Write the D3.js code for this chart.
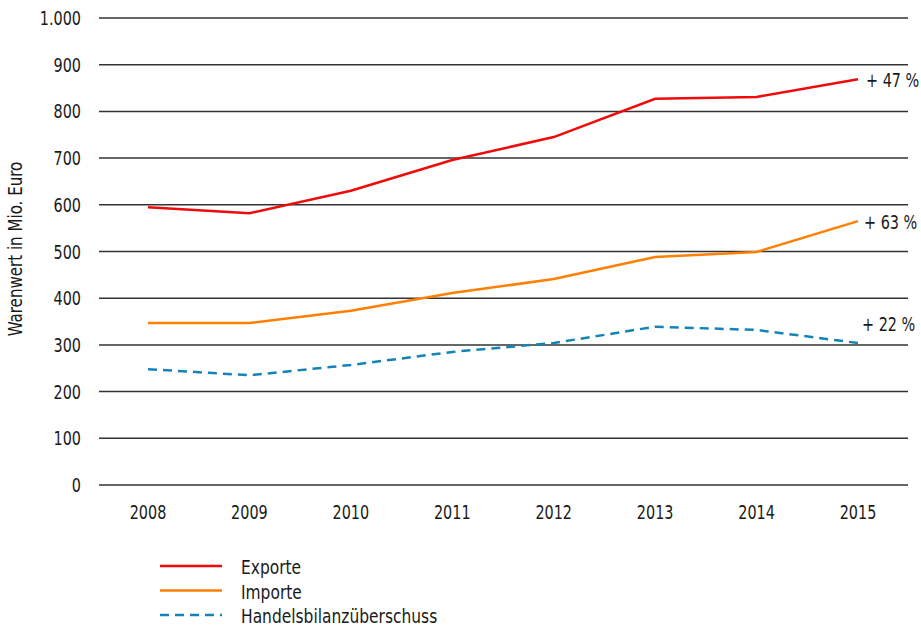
<!DOCTYPE html>
<html><head><meta charset="utf-8">
<script src="https://cdn.jsdelivr.net/npm/d3@7"></script>
<style>
body{margin:0;background:#fff;}
text{font-family:"DejaVu Sans Condensed","DejaVu Sans",sans-serif;font-stretch:condensed;fill:#1a1a1a;}
</style></head><body>
<svg id="c" width="921" height="627"></svg>
<script>
const years = ["2008","2009","2010","2011","2012","2013","2014","2015"];
const exporte = [595, 582, 630, 696, 745, 827, 831, 869];
const importe = [347, 347, 373, 411, 441, 488, 499, 565];
const ueberschuss = [248, 235, 257, 285, 304, 339, 332, 304];
const yTicks = [0,100,200,300,400,500,600,700,800,900,1000];
const changeLabels = ["+ 47 %", "+ 63 %", "+ 22 %"];
const seriesNames = ["Exporte", "Importe", "Handelsbilanzüberschuss"];

const svg = d3.select("#c");
const x = d3.scalePoint().domain(years).range([148, 858]);
const y = d3.scaleLinear().domain([0, 1000]).range([485, 18]);
const fmt = v => v === 1000 ? "1.000" : String(v);
const SX = 0.8;
const FS = 20;
const tr = (px, py, s) => `translate(${px},${py}) scale(${s || SX},1)`;

// grid
svg.append("g").selectAll("line").data(yTicks).join("line")
  .attr("x1", 99).attr("x2", 908)
  .attr("y1", d => y(d)).attr("y2", d => y(d))
  .attr("stroke", "#333").attr("stroke-width", 1.5);

// y labels
svg.append("g").selectAll("text").data(yTicks).join("text")
  .attr("transform", d => tr(81, y(d)))
  .attr("dy", "0.35em")
  .attr("text-anchor", "end").attr("font-size", FS)
  .text(fmt);

// x labels
svg.append("g").selectAll("text").data(years).join("text")
  .attr("transform", d => tr(x(d), 519))
  .attr("text-anchor", "middle").attr("font-size", FS)
  .text(d => d);

// y title
svg.append("text")
  .attr("transform", "translate(22,249) rotate(-90) scale(0.86,1)")
  .attr("text-anchor", "middle").attr("font-size", 19.5)
  .text("Warenwert in Mio. Euro");

const series = [
  {vals: exporte, color: "#f00a0a", dash: null},
  {vals: importe, color: "#ff7f00", dash: null},
  {vals: ueberschuss, color: "#1384b4", dash: "9,6"}
];
const line = d3.line().x((d,i) => x(years[i])).y(d => y(d));
series.forEach((s, k) => {
  svg.append("path").attr("d", line(s.vals))
    .attr("fill", "none").attr("stroke", s.color)
    .attr("stroke-width", 2.5)
    .attr("stroke-dasharray", s.dash);
});

// change labels
const labelPos = [
  {dx: 8, dy: 1},
  {dx: 6, dy: 1},
  {dx: 4, dy: -19}
];
series.forEach((s, k) => {
  svg.append("text")
    .attr("transform", tr(x(years[years.length-1]) + labelPos[k].dx, y(s.vals[s.vals.length-1]) + labelPos[k].dy))
    .attr("dy", "0.35em").attr("font-size", FS)
    .text(changeLabels[k]);
});

// legend
const lg = svg.append("g");
series.forEach((s, k) => {
  const ly = 566 + k * 24.5;
  lg.append("line").attr("x1", 160).attr("x2", 222)
    .attr("y1", ly).attr("y2", ly)
    .attr("stroke", s.color).attr("stroke-width", 2.5)
    .attr("stroke-dasharray", s.dash);
  lg.append("text").attr("transform", tr(241, ly + 1, 0.86)).attr("dy", "0.35em")
    .attr("font-size", FS).text(seriesNames[k]);
});
</script>
</body></html>
